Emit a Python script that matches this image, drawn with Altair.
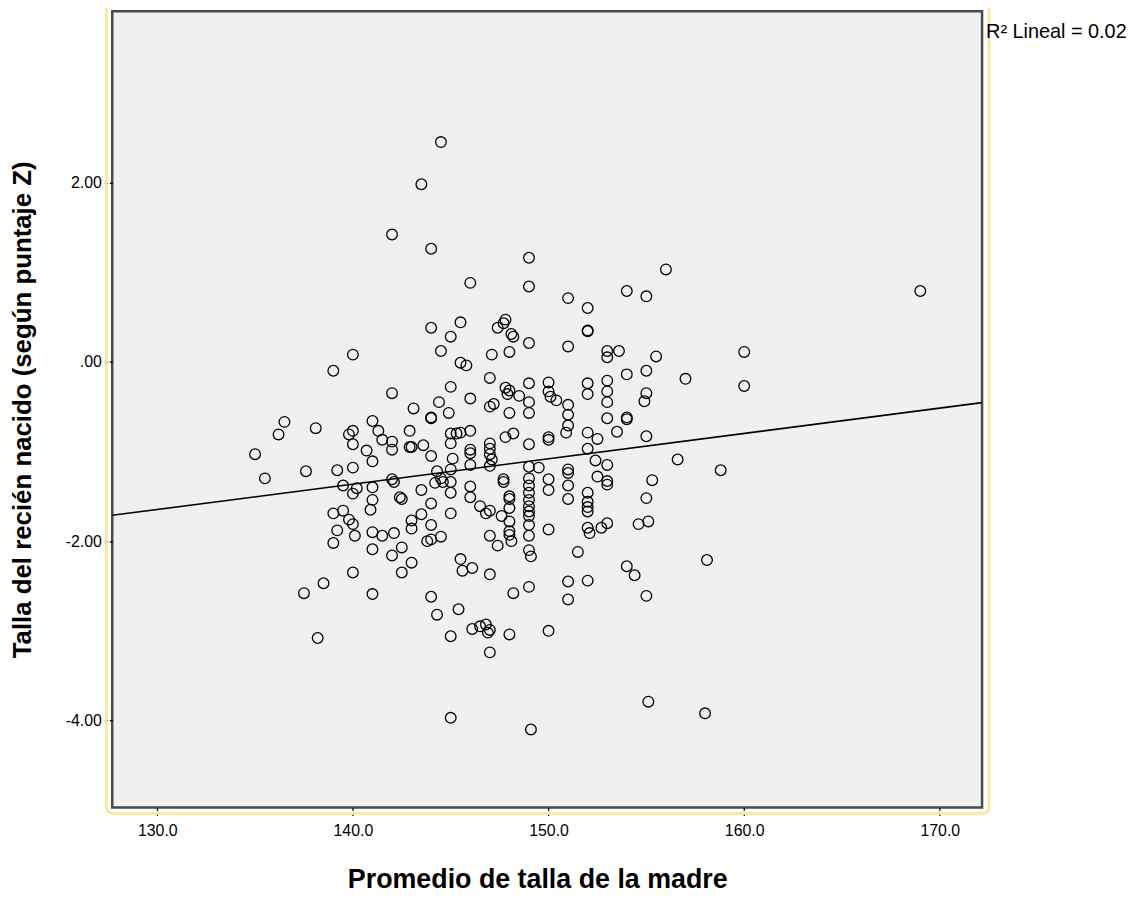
import altair as alt
import pandas as pd

# Mother's average height (cm)
madre = [
    144.5, 143.5, 142.0, 144.0, 149.0, 149.0, 146.0, 156.0, 154.0, 155.0,
    169.0, 151.0, 152.0, 152.0, 152.0, 147.7, 147.4, 147.8, 148.1, 148.2,
    149.0, 151.0, 148.0, 147.1, 160.0, 160.0, 153.0, 153.0, 153.6, 155.5,
    154.0, 155.0, 157.0, 149.0, 150.0, 147.8, 148.0, 147.9, 148.5, 149.0,
    149.0, 150.0, 150.1, 150.4, 151.0, 151.0, 151.0, 150.9, 152.0, 152.0,
    153.0, 153.0, 153.0, 153.0, 154.0, 154.0, 155.0, 154.9, 152.0, 152.5,
    153.5, 155.0, 152.0, 152.4, 153.0, 156.6, 158.8, 146.0, 147.0, 147.2,
    148.0, 147.8, 148.2, 149.0, 150.0, 150.0, 149.0, 149.5, 151.0, 145.5,
    144.0, 145.0, 144.5, 140.0, 139.0, 145.5, 145.8, 147.0, 145.0, 142.0,
    144.4, 143.1, 144.0, 144.0, 144.9, 136.5, 136.2, 138.1, 141.0, 140.0,
    139.8, 140.0, 141.3, 141.5, 142.0, 142.0, 142.9, 142.9, 143.0, 143.6,
    144.0, 140.7, 141.0, 135.0, 137.6, 139.2, 140.0, 145.0, 145.3, 145.5,
    145.0, 145.1, 144.3, 145.0, 146.0, 146.0, 146.0, 146.0, 147.0, 147.0,
    147.0, 147.1, 147.0, 135.5, 139.5, 140.0, 140.2, 141.0, 141.0, 140.9,
    142.0, 142.1, 142.4, 142.5, 143.5, 144.0, 144.5, 144.2, 144.6, 145.0,
    145.0, 145.0, 139.0, 139.5, 139.8, 140.0, 139.2, 139.0, 140.1, 141.0,
    141.5, 142.1, 143.0, 143.0, 143.5, 144.0, 143.8, 144.0, 144.5, 141.0,
    142.5, 142.0, 143.0, 142.5, 145.5, 145.6, 146.1, 140.0, 138.5, 137.5,
    141.0, 144.0, 144.3, 145.4, 138.2, 145.0, 146.0, 146.0, 146.5, 146.8,
    147.0, 147.6, 147.0, 147.4, 147.7, 147.7, 148.0, 148.0, 148.0, 148.0,
    148.0, 148.0, 148.1, 149.0, 149.0, 149.0, 149.0, 149.0, 149.0, 149.0,
    149.0, 149.0, 149.0, 149.1, 150.0, 150.0, 150.0, 151.0, 151.0, 151.0,
    152.0, 152.0, 152.0, 152.0, 152.5, 153.0, 153.0, 152.0, 152.1, 152.7,
    153.0, 155.3, 155.0, 154.6, 155.1, 149.0, 148.2, 151.5, 154.0, 154.4,
    158.1, 151.0, 151.0, 152.0, 155.0, 148.0, 150.0, 146.1, 146.5, 146.8,
    147.0, 146.9, 147.0, 155.1, 158.0, 149.1, 145.0, 147.0,
]

# Newborn length (Z score)
recien = [
    2.45, 1.98, 1.42, 1.26, 1.16, 0.84, 0.88, 1.03, 0.79, 0.73,
    0.79, 0.71, 0.60, 0.35, 0.34, 0.43, 0.38, 0.47, 0.31, 0.28,
    0.21, 0.17, 0.11, 0.08, 0.11, -0.27, 0.12, 0.05, 0.12, 0.06,
    -0.14, -0.10, -0.19, -0.24, -0.23, -0.29, -0.32, -0.36, -0.38, -0.45,
    -0.57, -0.33, -0.39, -0.43, -0.48, -0.59, -0.71, -0.79, -0.24, -0.36,
    -0.21, -0.33, -0.45, -0.63, -0.62, -0.64, -0.35, -0.44, -0.79, -0.86,
    -0.78, -0.83, -0.97, -1.10, -1.15, -1.09, -1.21, -0.41, -0.50, -0.47,
    -0.57, -0.84, -0.80, -0.92, -0.84, -0.87, -1.17, -1.18, -1.20, 0.44,
    0.38, 0.28, 0.12, 0.08, -0.10, -0.01, -0.04, -0.18, -0.28, -0.35,
    -0.45, -0.52, -0.62, -0.63, -0.57, -0.67, -0.81, -0.74, -0.66, -0.77,
    -0.81, -0.92, -0.77, -0.87, -0.89, -0.98, -0.77, -0.95, -0.95, -0.93,
    -1.05, -0.99, -1.11, -1.03, -1.22, -1.21, -1.18, -0.80, -0.80, -0.79,
    -0.91, -1.08, -1.22, -1.20, -0.77, -0.98, -1.02, -1.15, -0.91, -0.97,
    -1.03, -1.09, -1.16, -1.30, -1.38, -1.47, -1.41, -1.40, -1.54, -1.65,
    -1.31, -1.34, -1.51, -1.53, -1.43, -1.58, -1.30, -1.35, -1.34, -1.34,
    -1.46, -1.69, -1.69, -1.66, -1.76, -1.81, -1.88, -2.02, -1.94, -1.90,
    -1.94, -1.91, -1.77, -1.86, -1.70, -1.82, -2.00, -1.98, -1.95, -2.09,
    -2.07, -2.16, -2.24, -2.35, -2.20, -2.33, -2.30, -2.35, -2.47, -2.58,
    -2.59, -2.62, -2.82, -2.76, -3.08, -3.06, -1.39, -1.51, -1.61, -1.69,
    -1.66, -1.72, -1.94, -2.05, -1.31, -1.34, -1.50, -1.53, -1.63, -1.78,
    -1.89, -1.93, -2.00, -1.30, -1.38, -1.46, -1.54, -1.61, -1.67, -1.72,
    -1.82, -1.94, -2.10, -2.17, -1.31, -1.43, -1.87, -1.24, -1.38, -1.53,
    -1.46, -1.56, -1.62, -1.67, -1.28, -1.33, -1.37, -1.85, -1.91, -1.85,
    -1.80, -1.32, -1.52, -1.81, -1.78, -2.51, -2.58, -2.12, -2.28, -2.38,
    -2.21, -2.45, -2.65, -2.44, -2.61, -3.04, -3.00, -2.98, -2.95, -2.93,
    -2.99, -3.02, -3.24, -3.79, -3.92, -4.10, -3.97, -2.37,
]

# Linear fit (as drawn), R2 = 0.02
fit_intercept = -5.322
fit_slope = 0.02827

x_domain = [127.7, 172.16]
y_domain = [-4.97, 3.91]
x_ticks = [130, 140, 150, 160, 170]
y_ticks = [-4, -2, 0, 2]
r2_label = "R\u00b2 Lineal = 0.02"

W, H = 876, 802
FONT = "Liberation Sans"

pts = pd.DataFrame({"madre": madre, "recien": recien})
fit = pd.DataFrame({"madre": x_domain})
fit["recien"] = fit_intercept + fit_slope * fit["madre"]

xs = alt.Scale(domain=x_domain, nice=False, zero=False)
ys = alt.Scale(domain=y_domain, nice=False, zero=False)

x_axis = alt.Axis(
    values=x_ticks, format=".1f", grid=False, domain=False,
    tickSize=9, tickColor="black", tickDash=[3, 2], tickWidth=1.2, labelPadding=6,
    labelFont=FONT, labelFontSize=16, labelColor="black",
    title="Promedio de talla de la madre", titleFont=FONT, titleFontSize=27,
    titleFontWeight="bold", titleColor="black", titleX=428, titleY=73,
    titleBaseline="middle", titleAlign="center",
)
y_axis = alt.Axis(
    values=y_ticks, grid=False, domain=False,
    labelExpr="datum.value == 0 ? '.00' : replace(format(datum.value, '.2f'), '\u2212', '-')",
    tickSize=9, tickColor="black", tickDash=[3, 2], tickWidth=1.2, labelPadding=2,
    labelFont=FONT, labelFontSize=16, labelColor="black",
    title="Talla del recién nacido (según puntaje Z)", titleFont=FONT,
    titleFontSize=26, titleFontWeight="bold", titleColor="black",
    titleX=-90, titleY=H / 2, titleAngle=-90, titleBaseline="middle",
    titleAlign="center",
)

points = alt.Chart(pts).mark_point(
    shape="circle", filled=False, color="black", size=115,
    strokeWidth=1.3, opacity=1,
).encode(
    x=alt.X("madre:Q", scale=xs, axis=x_axis),
    y=alt.Y("recien:Q", scale=ys, axis=y_axis),
)

line = alt.Chart(fit).mark_line(color="black", strokeWidth=1.6).encode(
    x=alt.X("madre:Q", scale=xs),
    y=alt.Y("recien:Q", scale=ys),
)

border = alt.Chart(pd.DataFrame({"k": [0]})).mark_rect(
    fillOpacity=0, stroke="#FCE592", strokeWidth=2.5, cornerRadius=6,
).encode(
    x=alt.value(-6), x2=alt.value(W + 7), y=alt.value(-20), y2=alt.value(H + 6),
)

label = alt.Chart(pd.DataFrame({"t": [r2_label]})).mark_text(
    align="left", baseline="alphabetic", font=FONT, fontSize=20, color="black",
).encode(
    x=alt.value(W + 4), y=alt.value(27), text="t:N",
)

chart = alt.layer(border, points, line, label).properties(
    width=W, height=H,
    background="white",
    autosize=alt.AutoSizeParams(type="none"),
    padding={"left": 105, "top": 0, "right": 152, "bottom": 91},
).configure_view(
    fill="#F0F0F0", stroke="#4a4a4a", strokeWidth=2.5,
)

chart.save("out.html", embed_options={"renderer": "svg", "actions": False})
